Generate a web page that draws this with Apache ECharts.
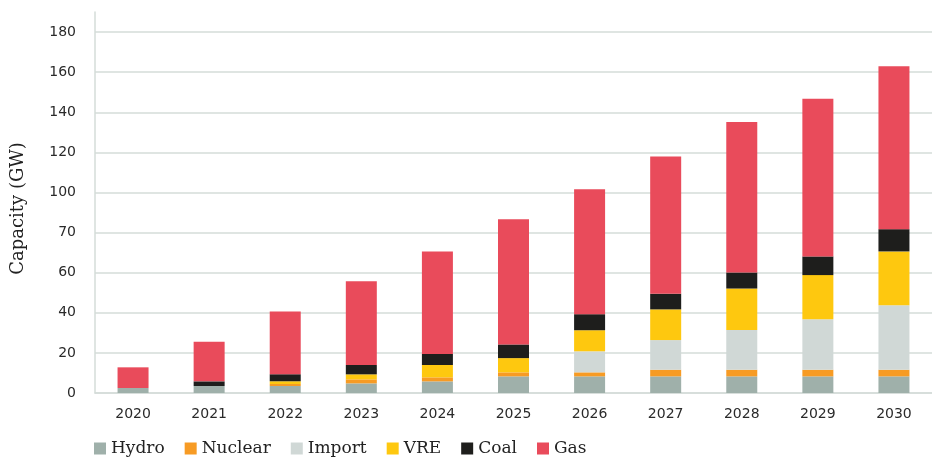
<!DOCTYPE html>
<html>
<head>
<meta charset="utf-8">
<script src="https://cdn.jsdelivr.net/npm/echarts@6/dist/echarts.min.js"></script>
<style>html,body{margin:0;padding:0;background:#fff}#c{width:932px;height:458px}</style>
</head>
<body>
<div id="c"></div>
<script>
const years = ['2020','2021','2022','2023','2024','2025','2026','2027','2028','2029','2030'];
const hydro   = [2.5, 3.5, 3.5, 4.8, 5.8, 8.3, 8.3, 8.3, 8.3, 8.3, 8.3];
const nuclear = [0, 0, 1, 2, 2, 2, 2, 3.3, 3.3, 3.3, 3.3];
const importC = [0, 0, 0, 0, 0, 0, 10.5, 14.8, 19.8, 25.2, 32.2];
const vre     = [0, 0, 1.35, 2.5, 6.15, 7.1, 10.5, 15.3, 20.7, 22, 26.8];
const coal    = [0, 2.3, 3.5, 4.65, 5.5, 6.8, 8, 7.8, 8, 9.3, 11.1];
const gas     = [10.3, 19.8, 31.25, 41.75, 51.15, 62.5, 62.3, 68.5, 75.1, 78.6, 81.3];
const yTickLabels = ['0','20','40','60','70','100','120','140','160','180'];

const colors = {Hydro:'#9fb0aa', Nuclear:'#f79b24', Import:'#d0d8d6', VRE:'#fec80f', Coal:'#1e1e1c', Gas:'#e94b5b'};
const seriesDefs = [['Hydro',hydro],['Nuclear',nuclear],['Import',importC],['VRE',vre],['Coal',coal],['Gas',gas]];

const chart = echarts.init(document.getElementById('c'));
chart.setOption({
  animation: false,
  grid: {left: 95, right: 0, top: 12, bottom: 65, containLabel: false},
  legend: {
    left: 89, top: 435, itemWidth: 12, itemHeight: 12, itemGap: 20,
    icon: 'rect',
    textStyle: {fontFamily: 'DejaVu Serif', fontSize: 17, color: '#222'},
    data: seriesDefs.map(d => d[0])
  },
  xAxis: {
    type: 'category', data: years,
    axisLine: {lineStyle: {color: '#d5dcd9', width: 1.5}},
    axisTick: {show: false},
    axisLabel: {fontFamily: 'DejaVu Sans', fontSize: 14, color: '#2a2a2a', margin: 14}
  },
  yAxis: {
    type: 'value', min: 0, max: 190, interval: 20,
    name: 'Capacity (GW)', nameLocation: 'middle', nameGap: 68,
    nameTextStyle: {fontFamily: 'DejaVu Serif', fontSize: 18, color: '#222', padding: [0, 12, 0, 0]},
    axisLine: {show: true, lineStyle: {color: '#d5dcd9', width: 1.5}},
    axisTick: {show: false},
    splitLine: {show: true, showMaxLine: false, lineStyle: {color: '#d5dcd9', width: 1.5}},
    axisLabel: {
      showMaxLabel: false,
      fontFamily: 'DejaVu Sans', fontSize: 14, color: '#2a2a2a', margin: 19,
      formatter: v => { const i = Math.round(v/20); return (v % 20 === 0 && yTickLabels[i] !== undefined) ? yTickLabels[i] : ''; }
    }
  },
  series: seriesDefs.map(([name, data]) => ({
    name, type: 'bar', stack: 'total', data, barWidth: 31,
    itemStyle: {color: colors[name]}
  }))
});
</script>
</body>
</html>
